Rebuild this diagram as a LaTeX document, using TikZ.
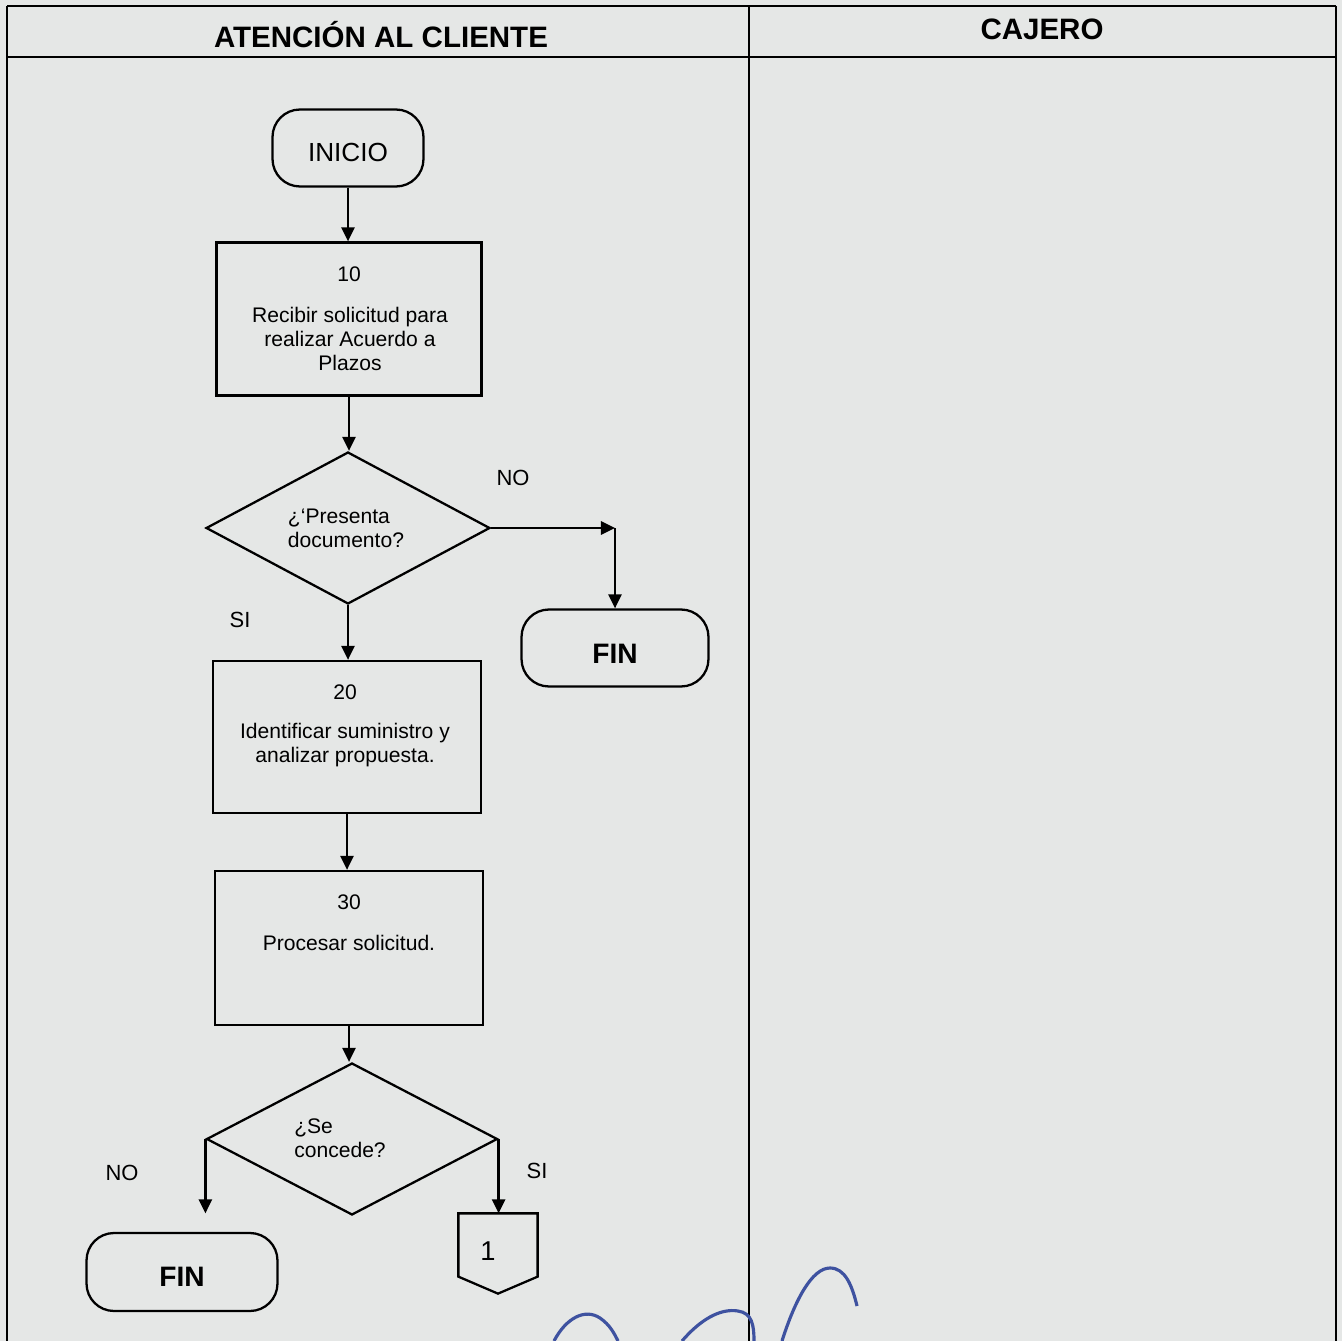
\documentclass[tikz,border=0pt]{standalone}
\usepackage{fontspec}
\setmainfont{Liberation Sans}
\usetikzlibrary{shapes.geometric}
\usetikzlibrary{arrows.meta}
\definecolor{paper}{RGB}{229,231,230}
\definecolor{ink}{RGB}{62,82,160}

\begin{document}
\begin{tikzpicture}[x=0.02cm,y=-0.02cm,line width=1.3pt,>={Triangle[length=8pt,width=7.5pt]},
	step node/.style={rectangle, draw, minimum width=5.32cm, minimum height=3.06cm, inner sep=0pt},
	end node/.style={rectangle, draw, rounded corners=0.55cm, minimum height=1.54cm, inner sep=0pt},
	decision node/.style={diamond, draw, minimum height=3.04cm, inner sep=0pt},
	text node/.style={align=center, inner sep=0pt, font=\fontsize{12}{13.7}\selectfont},
	label node/.style={inner sep=0pt, font=\fontsize{12.5}{14}\selectfont},
	lane node/.style={inner sep=0pt, font=\fontsize{16.8}{19}\selectfont\bfseries}]
			\useasboundingbox (0,0) rectangle (1342,1341);
			\fill[paper] (0,0) rectangle (1342,1341);
			
			% Lanes
			\draw[line width=0.9pt] (7,1341) -- (7,6) (749,6) -- (749,1341) (1336,6) -- (1336,1341);
			\draw[line width=1.7pt] (7,6) -- (1336,6) (7,57) -- (1336,57);
			\node[lane node] (l1) at (381,35) {ATENCIÓN AL CLIENTE};
			\node[lane node] (l2) at (1042,29) {CAJERO};
			
			% Nodes
			\node[end node, minimum width=3.02cm] (1) at (348,148) {};
			\node[step node, minimum width=5.3cm] (2) at (349,319) {};
			\node[decision node, minimum width=5.68cm] (3) at (348,528) {};
			\node[end node, minimum width=3.74cm] (4) at (615,648) {};
			\node[step node, minimum width=5.36cm, minimum height=3.04cm] (5) at (347,737) {};
			\node[step node, minimum width=5.36cm, minimum height=3.08cm] (6) at (349,948) {};
			\node[decision node, minimum width=5.82cm] (7) at (352,1139) {};
			\node[end node, minimum width=3.82cm, minimum height=1.56cm] (8) at (182,1272) {};
			\node[minimum width=1.54cm, minimum height=1.22cm, inner sep=0pt] (9) at (498,1245) {};
			\draw (9.north west) -- (9.north east) -- (9.south east) -- ([yshift=-0.34cm]9.south) -- (9.south west) -- cycle;
			
			% Texts
			\node[text node, font=\fontsize{14.9}{17}\selectfont] (1t) at (348,152) {INICIO};
			\node[text node] (2n) at (349,274) {10};
			\node[text node] (2t) at (350,339) {Recibir solicitud para\\realizar Acuerdo a\\Plazos};
			\node[text node, align=left] (3t) at (346,528) {¿‘Presenta\\documento?};
			\node[text node, font=\fontsize{16}{18}\selectfont\bfseries] (4t) at (615,654) {FIN};
			\node[text node] (5n) at (345,692) {20};
			\node[text node] (5t) at (345,745) {Identificar suministro y\\analizar propuesta.};
			\node[text node] (6n) at (349,902) {30};
			\node[text node] (6t) at (349,943) {Procesar solicitud.};
			\node[text node, align=left] (7t) at (340,1138) {¿Se\\concede?};
			\node[text node, font=\fontsize{16}{18}\selectfont\bfseries] (8t) at (182,1277) {FIN};
			\node[text node, font=\fontsize{15.5}{17}\selectfont] (9t) at (488,1251) {1};
			
			\node[label node] (no1) at (513,478) {NO};
			\node[label node] (si1) at (240,620) {SI};
			\node[label node] (no2) at (122,1173) {NO};
			\node[label node] (si2) at (537,1171) {SI};
			
			\coordinate (c1) at (4.north |- 3.east);
			\coordinate (c2) at (7.west |- 9.north);
			
			\path[->]
			(1.south) edge (1.south |- 2.north)
			(2.south) edge (2.south |- 3.north)
			(3.east) edge (c1)
			(c1) edge (4.north)
			(3.south) edge (3.south |- 5.north)
			(5.south) edge (5.south |- 6.north)
			(6.south) edge (6.south |- 7.north)
			(7.west) edge (c2)
			(7.east) edge (7.east |- 9.north);
			
			% signature
			\draw[ink, line width=1.8pt] (554,1341) .. controls (566,1318) and (585,1308) .. (600,1318) .. controls (610,1325) and (614,1333) .. (618,1341);
			\draw[ink, line width=1.8pt] (682,1341) .. controls (700,1320) and (720,1308) .. (738,1311) .. controls (752,1313) and (754,1325) .. (754,1341);
			\draw[ink, line width=1.8pt] (782,1341) .. controls (795,1300) and (812,1268) .. (830,1268) .. controls (845,1268) and (852,1285) .. (857,1306);
			
		\end{tikzpicture}
\end{document}
